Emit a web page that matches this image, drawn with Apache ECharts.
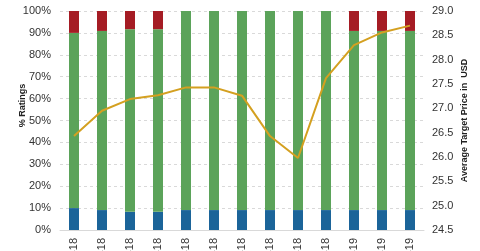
<!DOCTYPE html>
<html>
<head>
<meta charset="utf-8">
<script src="https://cdn.jsdelivr.net/npm/echarts@6/dist/echarts.min.js"></script>
<style>html,body{margin:0;padding:0;background:#fff;}#c{width:480px;height:251px;}</style>
</head>
<body>
<div id="c"></div>
<script>
var categories = ['Mar-18','Apr-18','May-18','Jun-18','Jul-18','Aug-18','Sep-18','Oct-18','Nov-18','Dec-18','Jan-19','Feb-19','Mar-19'];
var buyPct  = [10.0, 9.1, 8.3, 8.3, 9.1, 9.1, 9.1, 9.1, 9.1, 9.1, 9.1, 9.1, 9.1];
var holdPct = [80.0, 81.8, 83.4, 83.4, 90.9, 90.9, 90.9, 90.9, 90.9, 90.9, 81.8, 81.8, 81.8];
var sellPct = [10.0, 9.1, 8.3, 8.3, 0, 0, 0, 0, 0, 0, 9.1, 9.1, 9.1];
var targetPrice = [26.43, 26.95, 27.19, 27.27, 27.43, 27.43, 27.26, 26.43, 25.98, 27.62, 28.30, 28.56, 28.70];

var font = 'Liberation Sans, Arial, sans-serif';
var chart = echarts.init(document.getElementById('c'), null, {renderer: 'canvas'});
chart.setOption({
  animation: false,
  grid: {left: 60, right: 56, top: 11, bottom: 21, containLabel: false, outerBoundsMode: 'none'},
  xAxis: {
    type: 'category',
    data: categories,
    axisLine: {lineStyle: {color: '#d9d9d9'}},
    axisTick: {show: false},
    axisLabel: {rotate: 90, color: '#333', fontFamily: font, fontSize: 11, margin: 8, interval: 0}
  },
  yAxis: [{
    type: 'value', min: 0, max: 100, interval: 10,
    name: '% Ratings', nameLocation: 'middle', nameGap: 33, nameRotate: 90, nameMoveOverlap: false,
    nameTextStyle: {color: '#222', fontFamily: font, fontSize: 9, fontWeight: 'bold', padding: [0,0,0,30]},
    axisLabel: {formatter: '{value}%', color: '#333', fontFamily: font, fontSize: 11, margin: 9},
    axisLine: {show: false}, axisTick: {show: false},
    splitLine: {lineStyle: {color: '#d9d9d9', type: [3,3]}}
  }, {
    type: 'value', min: 24.5, max: 29.0, interval: 0.5,
    name: 'Average Target Price in  USD', nameLocation: 'middle', nameGap: 36, nameRotate: 90, nameMoveOverlap: false,
    nameTextStyle: {color: '#222', fontFamily: font, fontSize: 9, fontWeight: 'bold'},
    axisLabel: {formatter: function(v){return v.toFixed(1);}, color: '#333', fontFamily: font, fontSize: 11, margin: 8},
    axisLine: {show: false}, axisTick: {show: false},
    splitLine: {show: false}
  }],
  series: [
    {type: 'bar', stack: 'r', data: buyPct, barWidth: 10, itemStyle: {color: '#1b6499'}},
    {type: 'bar', stack: 'r', data: holdPct, barWidth: 10, itemStyle: {color: '#5ba35a'}},
    {type: 'bar', stack: 'r', data: sellPct, barWidth: 10, itemStyle: {color: '#a51c24'}},
    {type: 'line', yAxisIndex: 1, data: targetPrice, symbol: 'none', lineStyle: {color: '#d4a020', width: 2}}
  ]
});
</script>
</body>
</html>
